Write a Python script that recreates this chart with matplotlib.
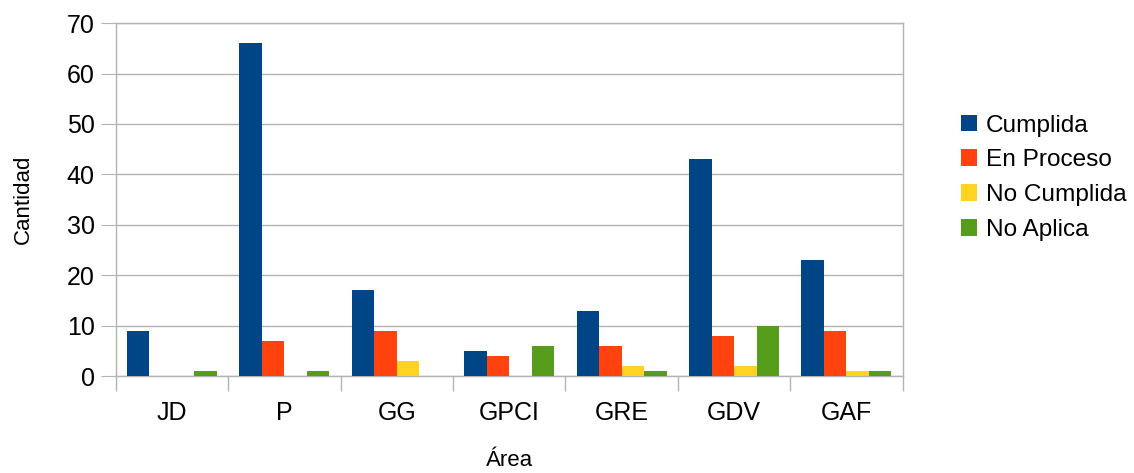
import matplotlib.pyplot as plt
import numpy as np

plt.rcParams['font.family'] = ['Liberation Sans', 'DejaVu Sans']

areas = ["JD", "P", "GG", "GPCI", "GRE", "GDV", "GAF"]
cumplida = [9, 66, 17, 5, 13, 43, 23]
en_proceso = [0, 7, 9, 4, 6, 8, 9]
no_cumplida = [0, 0, 3, 0, 2, 2, 1]
no_aplica = [1, 1, 0, 6, 1, 10, 1]

series = [
    ("Cumplida", cumplida, "#004586"),
    ("En Proceso", en_proceso, "#ff420e"),
    ("No Cumplida", no_cumplida, "#ffd320"),
    ("No Aplica", no_aplica, "#579d1c"),
]

fig = plt.figure(figsize=(11.34, 4.73), dpi=100)
ax = fig.add_axes([0.102, 0.205, 0.694, 0.746])

x = np.arange(len(areas))
w = 0.2
for i, (name, vals, col) in enumerate(series):
    ax.bar(x - 0.3 + i * w, vals, width=w, color=col, label=name, zorder=3)

ax.set_xlim(-0.5, len(areas) - 0.5)
ax.set_ylim(0, 70)
ax.set_yticks(range(0, 71, 10))
ax.set_xticks(x)
ax.set_xticklabels(areas)
ax.set_xticks(np.arange(-0.5, len(areas), 1), minor=True)
ax.tick_params(axis='x', which='major', length=0, labelsize=18, pad=18)
ax.tick_params(axis='x', which='minor', length=11, color='#b3b3b3', width=1)
ax.tick_params(axis='y', length=11, color='#b3b3b3', labelsize=18, pad=4)
ax.yaxis.grid(True, color='#b3b3b3', linewidth=1, zorder=0)
for s in ax.spines.values():
    s.set_color('#b3b3b3')
    s.set_linewidth(1)

ax.set_xlabel("Área", fontsize=16, labelpad=18)
ax.set_ylabel("Cantidad", fontsize=16, labelpad=24)

ax.legend(loc='center left', bbox_to_anchor=(1.058, 0.562), frameon=False,
          fontsize=17.6, handlelength=0.68, handleheight=0.68, handletextpad=0.35,
          labelspacing=0.52, borderpad=0)

fig.savefig("out.png", dpi=100)
